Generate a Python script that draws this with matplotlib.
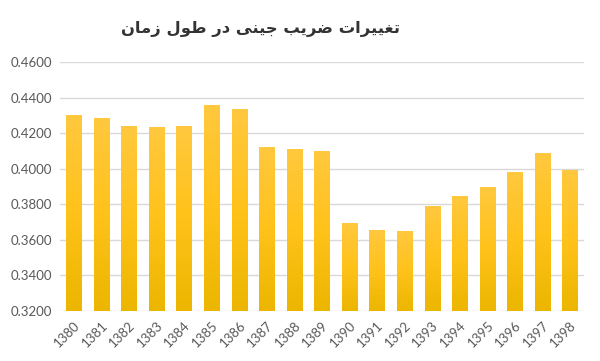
import numpy as np
import matplotlib.pyplot as plt
from matplotlib.colors import LinearSegmentedColormap

years = ['1380', '1381', '1382', '1383', '1384', '1385', '1386', '1387', '1388', '1389',
         '1390', '1391', '1392', '1393', '1394', '1395', '1396', '1397', '1398']
gini = [0.4301, 0.4283, 0.4239, 0.4236, 0.4243, 0.4356, 0.4335, 0.4123, 0.4110, 0.4100,
        0.3697, 0.3654, 0.3648, 0.3789, 0.3847, 0.3897, 0.3979, 0.4089, 0.3995]
yticks = [0.32, 0.34, 0.36, 0.38, 0.40, 0.42, 0.44, 0.46]
title = 'تغییرات ضریب جینی در طول زمان'

# matplotlib has no arabic shaping, so map letters to presentation forms by hand
# (isolated, final, initial, medial)
forms = {
    'ا': ('\uFE8D', '\uFE8E', None, None),
    'ب': ('\uFE8F', '\uFE90', '\uFE91', '\uFE92'),
    'ت': ('\uFE95', '\uFE96', '\uFE97', '\uFE98'),
    'ج': ('\uFE9D', '\uFE9E', '\uFE9F', '\uFEA0'),
    'د': ('\uFEA9', '\uFEAA', None, None),
    'ر': ('\uFEAD', '\uFEAE', None, None),
    'ز': ('\uFEAF', '\uFEB0', None, None),
    'ض': ('\uFEBD', '\uFEBE', '\uFEBF', '\uFEC0'),
    'ط': ('\uFEC1', '\uFEC2', '\uFEC3', '\uFEC4'),
    'غ': ('\uFECD', '\uFECE', '\uFECF', '\uFED0'),
    'ل': ('\uFEDD', '\uFEDE', '\uFEDF', '\uFEE0'),
    'م': ('\uFEE1', '\uFEE2', '\uFEE3', '\uFEE4'),
    'ن': ('\uFEE5', '\uFEE6', '\uFEE7', '\uFEE8'),
    'و': ('\uFEED', '\uFEEE', None, None),
    'ی': ('\uFEEF', '\uFEF0', '\uFEF3', '\uFEF4'),
}


def shape(text):
    out = []
    for word in text.split(' '):
        res = ''
        for i, ch in enumerate(word):
            f = forms[ch]
            prev_joins = i > 0 and forms[word[i - 1]][2] is not None
            next_joins = i < len(word) - 1 and f[2] is not None
            if prev_joins and next_joins:
                res += f[3]
            elif prev_joins:
                res += f[1]
            elif next_joins:
                res += f[2]
            else:
                res += f[0]
        out.append(res[::-1])
    return ' '.join(out[::-1])


fig = plt.figure(figsize=(6, 3.61), dpi=100)
ax = fig.add_axes([0.1, 0.139, 0.873, 0.689])

x = np.arange(len(years))
bars = ax.bar(x, gini, width=0.55, color='#FFC21A', zorder=3)

# excel style vertical gradient inside each bar
cmap = LinearSegmentedColormap.from_list('bar', ['#ECB600', '#FFC21A', '#FFC83E'])
grad = np.linspace(0, 1, 100).reshape(-1, 1)
for b in bars:
    x0, w, h = b.get_x(), b.get_width(), b.get_height()
    im = ax.imshow(grad, cmap=cmap, origin='lower', aspect='auto',
                   extent=(x0, x0 + w, 0.32, h), zorder=3)
    im.set_clip_path(b)

ax.set_xlim(-0.5, len(years) - 0.5)
ax.set_ylim(0.32, 0.46)
ax.set_yticks(yticks)
ax.set_yticklabels(['%.4f' % v for v in yticks])
ax.set_xticks(x)
ax.set_xticklabels(years, rotation=45, ha='right', rotation_mode='anchor')
ax.tick_params(length=0, labelsize=9.5, colors='#595959', pad=6)
for lab in ax.get_xticklabels() + ax.get_yticklabels():
    lab.set_family('Lato')

ax.grid(axis='y', color='#D9D9D9', linewidth=1, zorder=0)
for s in ax.spines.values():
    s.set_visible(False)

fig.text(0.435, 0.92, shape(title), ha='center', va='center', fontsize=11.8,
         fontweight='bold', family='DejaVu Sans', color='#333333')

fig.savefig('out.png')
